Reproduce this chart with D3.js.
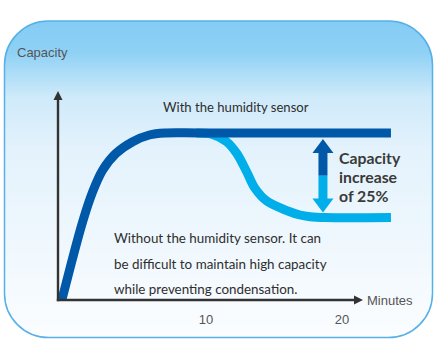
<!DOCTYPE html>
<html>
<head>
<meta charset="utf-8">
<script src="https://cdn.jsdelivr.net/npm/d3@7"></script>
<style>
  body { margin: 0; background: #fff; }
  svg { display: block; }
</style>
</head>
<body>
<div id="chart"></div>
<script>
var width = 440;
var height = 355;

// values (minutes, relative capacity)
var xTicks = [10, 20];
var withSensorX = [-0.6, 0.93, 1.67, 2.4, 3.38, 4.61, 5.83, 7.06, 9.56, 23.6];
var withSensorY = [0, 46.9, 64.9, 77.8, 87.8, 94.8, 98.8, 100, 100, 100];
var withoutSensorX = [9.3, 10.4, 11.52, 12.26, 12.99, 13.6, 14.46, 16.02, 16.91, 17.65, 18.75, 23.6];
var withoutSensorY = [100, 99.3, 94.8, 87.8, 76.8, 66.9, 59.3, 53.3, 50.9, 49.9, 49.4, 49.4];
var arrowAt = 18.6;
var noteLines = ["Without the humidity sensor. It can",
                 "be difficult to maintain high capacity",
                 "while preventing condensation."];
var increaseLines = ["Capacity", "increase", "of 25%"];

var svg = d3.select('#chart').append('svg')
    .attr("width", width)
    .attr("height", height);

var defs = svg.append("defs");
var grad = defs.append("linearGradient")
    .attr("id", "bg")
    .attr("x1", 0).attr("y1", 0).attr("x2", 0).attr("y2", 1);
grad.append("stop").attr("offset", "0%").attr("stop-color", "#84ccf4");
grad.append("stop").attr("offset", "10%").attr("stop-color", "#8fd1f5");
grad.append("stop").attr("offset", "24%").attr("stop-color", "#cfeafa");
grad.append("stop").attr("offset", "40%").attr("stop-color", "#e3f2fc");
grad.append("stop").attr("offset", "100%").attr("stop-color", "#fbfdff");

// panel
svg.append("rect")
    .attr("x", 4.5).attr("y", 21)
    .attr("width", 428).attr("height", 316.5)
    .attr("rx", 44).attr("ry", 44)
    .attr("fill", "url(#bg)")
    .attr("stroke", "#55b1e6")
    .attr("stroke-width", 1.5);

var x = d3.scaleLinear().domain([10, 20]).range([206, 342]);
var y = d3.scaleLinear().domain([0, 100]).range([300, 133]);

var line = d3.line()
    .x(function(d) { return x(d[0]); })
    .y(function(d) { return y(d[1]); })
    .curve(d3.curveCatmullRom.alpha(0.5));

var lowData = d3.zip(withoutSensorX, withoutSensorY);
var highData = d3.zip(withSensorX, withSensorY);

svg.append("path")
    .attr("d", line(lowData))
    .attr("fill", "none")
    .attr("stroke", "#00aee9")
    .attr("stroke-width", 9);

svg.append("path")
    .attr("d", line(highData))
    .attr("fill", "none")
    .attr("stroke", "#0058a9")
    .attr("stroke-width", 9);

// axes
var axisColor = "#333";
var x0 = 58, y0 = 300;
svg.append("line")
    .attr("x1", x0).attr("y1", y0 + 1.2)
    .attr("x2", x0).attr("y2", 98)
    .attr("stroke", axisColor).attr("stroke-width", 2.4);
svg.append("path")
    .attr("d", "M" + x0 + ",91 L" + (x0 - 4.5) + ",100 L" + (x0 + 4.5) + ",100 Z")
    .attr("fill", axisColor);
svg.append("line")
    .attr("x1", x0 - 1.2).attr("y1", y0)
    .attr("x2", 355).attr("y2", y0)
    .attr("stroke", axisColor).attr("stroke-width", 2.4);
svg.append("path")
    .attr("d", "M363," + y0 + " L354," + (y0 - 4.5) + " L354," + (y0 + 4.5) + " Z")
    .attr("fill", axisColor);

svg.selectAll(".tick")
    .data(xTicks)
    .enter()
    .append("text")
    .attr("class", "tick")
    .attr("x", function(d) { return x(d); })
    .attr("y", 324)
    .attr("text-anchor", "middle")
    .attr("font-family", "Liberation Sans, Arial, sans-serif")
    .attr("font-size", 13)
    .attr("fill", "#555")
    .text(function(d) { return d; });

svg.append("text")
    .attr("x", 367).attr("y", 305)
    .attr("font-family", "Liberation Sans, Arial, sans-serif")
    .attr("font-size", 13)
    .attr("fill", "#555")
    .text("Minutes");

svg.append("text")
    .attr("x", 17).attr("y", 57)
    .attr("font-family", "Liberation Sans, Arial, sans-serif")
    .attr("font-size", 13)
    .attr("fill", "#555")
    .text("Capacity");

// annotations
var noteFont = "Lato, Open Sans, sans-serif";
svg.append("text")
    .attr("x", 163).attr("y", 112)
    .attr("font-family", noteFont)
    .attr("font-size", 13.1)
    .attr("fill", "#2e2e2e")
    .text("With the humidity sensor");

svg.selectAll(".note")
    .data(noteLines)
    .enter()
    .append("text")
    .attr("class", "note")
    .attr("x", 114)
    .attr("y", function(d, i) { return 243 + i * 25.5; })
    .attr("font-family", noteFont)
    .attr("font-size", 13.4)
    .attr("fill", "#2e2e2e")
    .text(function(d) { return d; });

// double arrow between the two levels
var ax = x(arrowAt);
var arrTop = y(100) + 6;
var arrBot = y(withoutSensorY[withoutSensorY.length - 1]) - 5;
var mid = (arrTop + arrBot) / 2;
var hw = 10.5, hh = 14, sw = 4.5;
svg.append("path")
    .attr("d", "M" + ax + "," + arrTop +
        " L" + (ax + hw) + "," + (arrTop + hh) +
        " L" + (ax + sw) + "," + (arrTop + hh) +
        " L" + (ax + sw) + "," + mid +
        " L" + (ax - sw) + "," + mid +
        " L" + (ax - sw) + "," + (arrTop + hh) +
        " L" + (ax - hw) + "," + (arrTop + hh) + " Z")
    .attr("fill", "#0058a9");
svg.append("path")
    .attr("d", "M" + ax + "," + arrBot +
        " L" + (ax + hw) + "," + (arrBot - hh) +
        " L" + (ax + sw) + "," + (arrBot - hh) +
        " L" + (ax + sw) + "," + mid +
        " L" + (ax - sw) + "," + mid +
        " L" + (ax - sw) + "," + (arrBot - hh) +
        " L" + (ax - hw) + "," + (arrBot - hh) + " Z")
    .attr("fill", "#00aee9");

svg.selectAll(".inc")
    .data(increaseLines)
    .enter()
    .append("text")
    .attr("class", "inc")
    .attr("x", 339)
    .attr("y", function(d, i) { return 164 + i * 19; })
    .attr("font-family", noteFont)
    .attr("font-size", 15.8)
    .attr("font-weight", "bold")
    .attr("fill", "#3a3a3a")
    .text(function(d) { return d; });
</script>
</body>
</html>
